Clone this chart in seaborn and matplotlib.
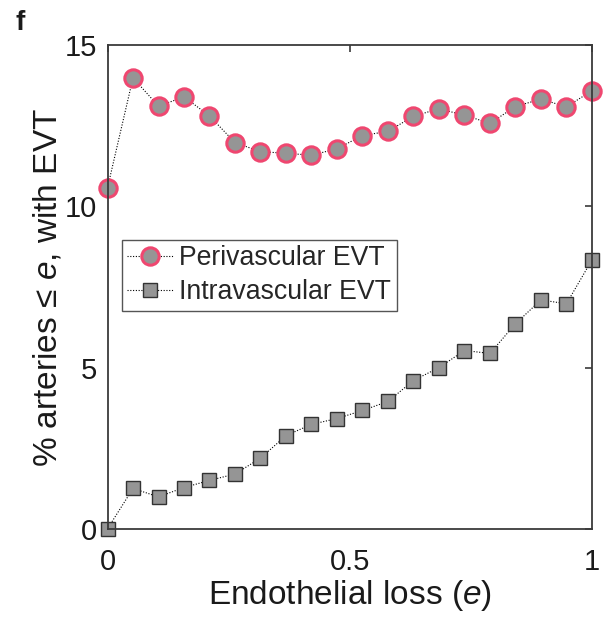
import numpy as np
import pandas as pd
import matplotlib
matplotlib.use("Agg")
import matplotlib.pyplot as plt
import seaborn as sns

sns.set_theme(style="white")
plt.rcParams['font.family'] = ['Liberation Sans', 'DejaVu Sans']
plt.rcParams['mathtext.fontset'] = 'custom'
plt.rcParams['mathtext.rm'] = 'Liberation Sans'
plt.rcParams['mathtext.it'] = 'Liberation Sans:italic'

endothelial_loss = np.linspace(0, 1, 20)
perivascular = [10.58, 13.99, 13.11, 13.40, 12.81, 11.98, 11.70, 11.65, 11.59, 11.79,
                12.20, 12.33, 12.80, 13.03, 12.83, 12.58, 13.10, 13.33, 13.09, 13.59]
intravascular = [0.0, 1.25, 0.99, 1.28, 1.50, 1.70, 2.19, 2.89, 3.24, 3.42,
                 3.67, 3.95, 4.60, 5.00, 5.53, 5.44, 6.36, 7.10, 6.98, 8.34]
series_names = ["Perivascular EVT", "Intravascular EVT"]
x_ticks = [0, 0.5, 1]
x_tick_labels = ["0", "0.5", "1"]
y_ticks = [0, 5, 10, 15]

df = pd.DataFrame({"e": endothelial_loss, "peri": perivascular, "intra": intravascular})

fig = plt.figure(figsize=(6.04, 6.17), dpi=100)
ax = fig.add_axes([0.178, 0.143, 0.802, 0.7836])

axis_col = "#3a3a3a"
sns.lineplot(data=df, x="e", y="peri", ax=ax, color="black", linestyle=(0, (1, 1.5)),
             linewidth=0.8, marker="o", markersize=12.5, markerfacecolor="#959595",
             markeredgecolor="#ef4770", markeredgewidth=2.2, label=series_names[0])
sns.lineplot(data=df, x="e", y="intra", ax=ax, color="black", linestyle=(0, (1, 1.5)),
             linewidth=0.8, marker="s", markersize=9.5, markerfacecolor="#959595",
             markeredgecolor="#333333", markeredgewidth=1.0, label=series_names[1])

ax.set_xlim(0, 1)
ax.set_ylim(0, 15)
ax.set_xticks(x_ticks)
ax.set_xticklabels(x_tick_labels)
ax.set_yticks(y_ticks)
ax.tick_params(direction="in", length=5, width=1.2, color=axis_col, labelsize=21,
               labelcolor="#1a1a1a", top=True, right=True)
ax.tick_params(axis="x", pad=13.5)
ax.tick_params(axis="y", pad=7.5)
for s in ax.spines.values():
    s.set_color(axis_col)
    s.set_linewidth(1.3)
for m in ax.lines:
    m.set_clip_on(False)

ax.set_xlabel("Endothelial loss ($\\it{e}$)", fontsize=24, color="#1a1a1a", labelpad=2)
ax.set_ylabel("% arteries ≤ $\\it{e}$, with EVT", fontsize=24, color="#1a1a1a", labelpad=1)

leg = ax.legend(loc="upper left", bbox_to_anchor=(0.030, 0.597), fontsize=19.2,
                frameon=True, fancybox=False, framealpha=1, edgecolor="#555555",
                borderpad=0.2, labelspacing=0.3, handlelength=1.7, handletextpad=0.25,
                borderaxespad=0)
leg.get_frame().set_linewidth(1.0)

fig.text(0.026, 0.983, "f", fontsize=20, fontweight="bold", color="#1a1a1a", va="top")

fig.savefig("out.png", dpi=100)
